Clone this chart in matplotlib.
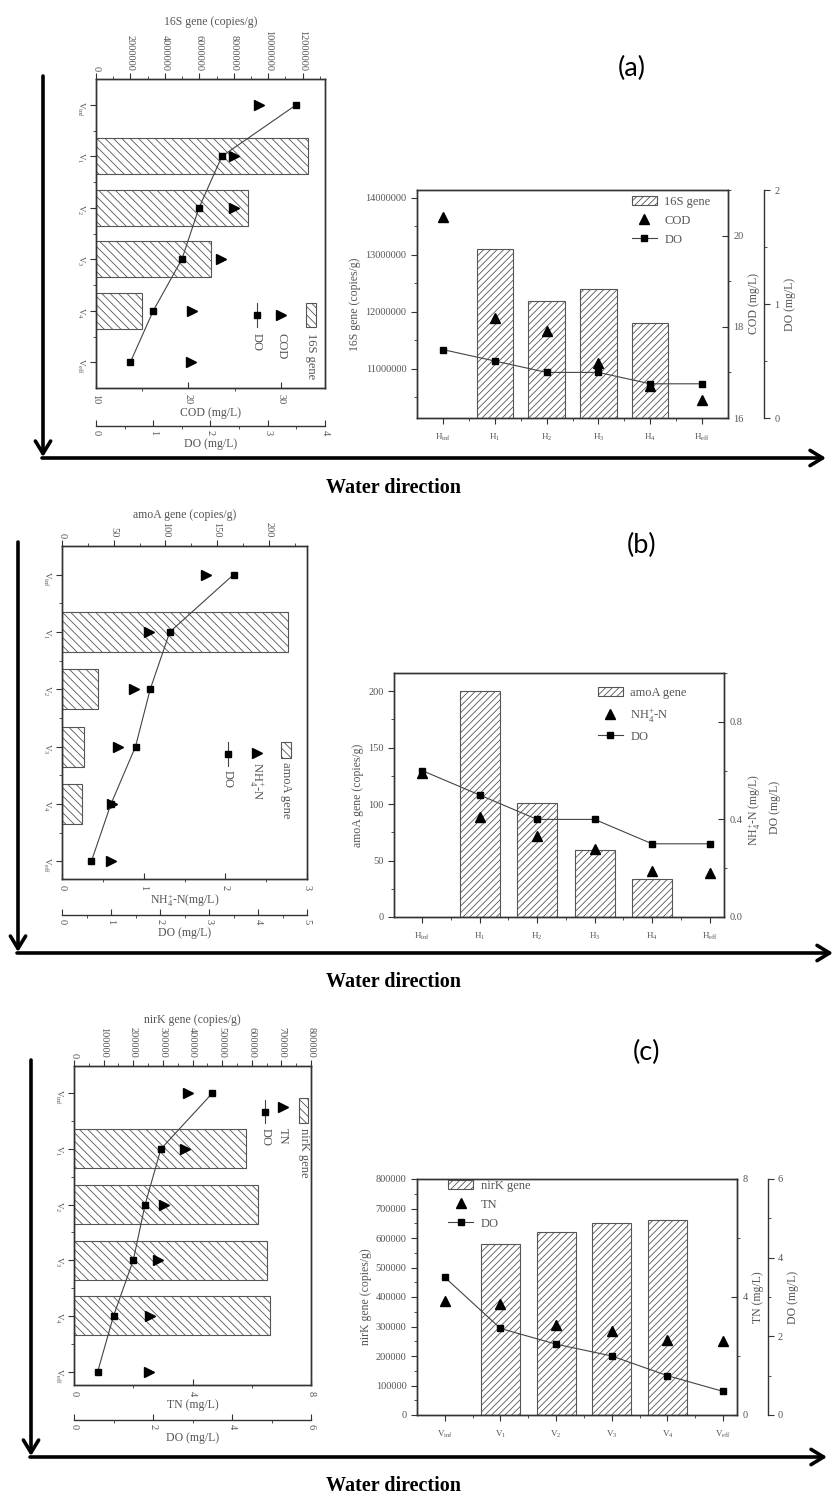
import numpy as np
import matplotlib
matplotlib.use('Agg')
import matplotlib.pyplot as plt
from matplotlib.patches import Patch, Rectangle
from matplotlib.lines import Line2D
from matplotlib.ticker import MultipleLocator, FixedLocator, FormatStrFormatter

W, H = 835, 1496

v_sites = [r'V$_\mathregular{inf}$', r'V$_\mathregular{1}$', r'V$_\mathregular{2}$',
           r'V$_\mathregular{3}$', r'V$_\mathregular{4}$', r'V$_\mathregular{eff}$']
h_sites = [r'H$_\mathregular{inf}$', r'H$_\mathregular{1}$', r'H$_\mathregular{2}$',
           r'H$_\mathregular{3}$', r'H$_\mathregular{4}$', r'H$_\mathregular{eff}$']

# (a) 16S gene / COD / DO
gene16s_v = [np.nan, 12300000, 8800000, 6700000, 2700000, np.nan]
cod_v = [27.7, 24.9, 24.9, 23.5, 20.4, 20.3]
do_v = [3.5, 2.2, 1.8, 1.5, 1.0, 0.6]
gene16s_h = [np.nan, 13100000, 12200000, 12400000, 11800000, np.nan]
cod_h = [20.4, 18.2, 17.9, 17.2, 16.7, 16.4]
do_h = [0.6, 0.5, 0.4, 0.4, 0.3, 0.3]

# (b) amoA gene / NH4+-N / DO
amoa_v = [np.nan, 219, 35, 21, 19, np.nan]
nh4_v = [1.76, 1.06, 0.88, 0.69, 0.61, 0.60]
amoa_h = [np.nan, 200, 101, 59, 34, np.nan]
nh4_h = [0.59, 0.41, 0.33, 0.28, 0.19, 0.18]

# (c) nirK gene / TN / DO
nirk_v = [np.nan, 580000, 620000, 650000, 660000, np.nan]
tn_v = [3.85, 3.75, 3.05, 2.85, 2.55, 2.52]

NH4 = r'NH$_\mathregular{4}^\mathregular{+}$-N'

DARK = '#333333'
GREY = '#555555'
EDGE = '#555555'
LINE = '#444444'

plt.rcParams['font.family'] = ['Liberation Serif', 'DejaVu Serif']
plt.rcParams['mathtext.fontset'] = 'stix'
plt.rcParams['hatch.linewidth'] = 0.6

fig = plt.figure(figsize=(W / 100, H / 100), dpi=100)


def add_box(l, t, r, b):
    return fig.add_axes([l / W, 1 - b / H, (r - l) / W, (b - t) / H])


def style(ax):
    for s in ax.spines.values():
        s.set_color(DARK)
        s.set_linewidth(1.0)
    ax.tick_params(which='both', colors=DARK, labelcolor=GREY, labelsize=7.5)
    ax.tick_params(which='major', length=4)
    ax.tick_params(which='minor', length=2.5)


def steps(axis, step):
    axis.set_major_locator(MultipleLocator(step))
    axis.set_minor_locator(MultipleLocator(step / 2))


def rotated_panel(box, gene, gene_lim, gene_step, gene_label,
                  mark, mark_lim, mark_step, mark_label,
                  do, do_lim, do_step, cat_lim, do_offset, legend):
    ax = add_box(*box)
    y = np.arange(len(v_sites))
    axm = ax.twiny()
    axd = ax.twiny()

    ax.barh(y, gene, height=0.7, color='white', edgecolor=EDGE, lw=0.8, hatch='\\\\\\\\')
    ax.set_ylim(*cat_lim)
    ax.set_xlim(*gene_lim)
    ax.set_yticks(y)
    ax.set_yticklabels(v_sites)
    ax.yaxis.set_minor_locator(FixedLocator(y[:-1] + 0.5))
    ax.xaxis.tick_top()
    ax.xaxis.set_label_position('top')
    steps(ax.xaxis, gene_step)
    ax.ticklabel_format(axis='x', style='plain', useOffset=False)
    ax.set_xlabel(gene_label, fontsize=8.5, color=GREY, labelpad=3)
    style(ax)
    ax.tick_params(axis='x', labelrotation=-90, pad=2)
    ax.tick_params(axis='y', labelrotation=-90, labelsize=6.5, pad=3)

    axm.plot(mark, y, ls='none', marker='>', color='black', ms=7)
    axm.set_xlim(*mark_lim)
    axm.xaxis.tick_bottom()
    axm.xaxis.set_label_position('bottom')
    steps(axm.xaxis, mark_step)
    axm.set_xlabel(mark_label, fontsize=8.5, color=GREY, labelpad=2)
    style(axm)
    axm.tick_params(axis='x', labelrotation=-90, direction='in', pad=4)

    axd.plot(do, y, color=LINE, lw=0.8, marker='s', mfc='black', mec='black', ms=4.5)
    axd.set_xlim(*do_lim)
    axd.xaxis.tick_bottom()
    axd.xaxis.set_label_position('bottom')
    steps(axd.xaxis, do_step)
    axd.spines['bottom'].set_position(('outward', do_offset))
    for s in ['top', 'left', 'right']:
        axd.spines[s].set_visible(False)
    axd.set_xlabel('DO (mg/L)', fontsize=8.5, color=GREY, labelpad=2)
    style(axd)
    axd.tick_params(axis='x', labelrotation=-90, direction='in', pad=3)

    # legend, turned like the rest of the chart
    tr = ax.transAxes
    for kind, x, y0, y1, ytext, label in legend:
        if kind == 'patch':
            ax.add_patch(Rectangle((x - 0.02, 1 - y1), 0.04, y1 - y0, transform=tr,
                                   facecolor='white', edgecolor=EDGE, lw=0.8,
                                   hatch='\\\\\\\\', clip_on=False))
        elif kind == 'tri':
            ax.plot([x], [1 - (y0 + y1) / 2], transform=tr, ls='none', marker='>',
                    color='black', ms=7, clip_on=False)
        else:
            ax.plot([x, x], [1 - y0, 1 - y1], transform=tr, color=LINE, lw=0.8,
                    clip_on=False)
            ax.plot([x], [1 - (y0 + y1) / 2], transform=tr, marker='s', color='black',
                    ms=4.5, clip_on=False)
        ax.text(x, 1 - ytext, label, transform=tr, rotation=-90, ha='center', va='top',
                fontsize=9, color=GREY)
    return ax


def upright_panel(box, sites, gene, gene_lim, gene_step, gene_label,
                  mark, mark_lim, mark_step, mark_label,
                  do, do_lim, do_step, cat_lim, do_offset, leg_anchor, leg_labels,
                  right_fmt=None):
    ax = add_box(*box)
    x = np.arange(len(sites))
    axm = ax.twinx()

    ax.bar(x, gene, width=0.7, color='white', edgecolor=EDGE, lw=0.8, hatch='/////')
    ax.set_xlim(*cat_lim)
    ax.set_xticks(x)
    ax.set_xticklabels(sites)
    ax.xaxis.set_minor_locator(FixedLocator(x[:-1] + 0.5))
    ax.set_ylim(*gene_lim)
    steps(ax.yaxis, gene_step)
    ax.ticklabel_format(axis='y', style='plain', useOffset=False)
    ax.set_ylabel(gene_label, fontsize=8.5, color=GREY, labelpad=3)
    style(ax)
    ax.tick_params(axis='x', labelsize=6.5, pad=6)

    axm.plot(x, mark, ls='none', marker='^', color='black', ms=7)
    axm.set_ylim(*mark_lim)
    steps(axm.yaxis, mark_step)
    if right_fmt:
        axm.yaxis.set_major_formatter(FormatStrFormatter(right_fmt))
    style(axm)
    axm.tick_params(axis='y', direction='in', pad=4)

    if do_offset is None:
        axm.plot(x, do, color=LINE, lw=0.8, marker='s', mfc='black', mec='black', ms=4)
        axm.text(1.094, 0.44, mark_label, transform=axm.transAxes, rotation=90,
                 ha='center', va='center', fontsize=8.5, color=GREY)
        axm.text(1.155, 0.45, 'DO (mg/L)', transform=axm.transAxes, rotation=90,
                 ha='center', va='center', fontsize=8.5, color=GREY)
    else:
        axm.set_ylabel(mark_label, fontsize=8.5, color=GREY, labelpad=3)
        axd = ax.twinx()
        axd.plot(x, do, color=LINE, lw=0.8, marker='s', mfc='black', mec='black', ms=4)
        axd.set_ylim(*do_lim)
        steps(axd.yaxis, do_step)
        axd.spines['right'].set_position(('outward', do_offset))
        for s in ['top', 'left', 'bottom']:
            axd.spines[s].set_visible(False)
        axd.set_ylabel('DO (mg/L)', fontsize=8.5, color=GREY, labelpad=3)
        style(axd)

    handles = [Patch(facecolor='white', edgecolor=EDGE, lw=0.8, hatch='/////'),
               Line2D([], [], ls='none', marker='^', color='black', ms=7),
               Line2D([], [], color=LINE, lw=0.8, marker='s', mfc='black', mec='black', ms=4)]
    ax.legend(handles, leg_labels, loc='upper left', bbox_to_anchor=leg_anchor,
              frameon=False, fontsize=9, labelcolor=GREY, borderpad=0, borderaxespad=0,
              handlelength=2.0, handletextpad=0.6, labelspacing=0.55)
    return ax


# ---------- (a) ----------
rotated_panel((96, 79, 325, 388), gene16s_v, (0, 13300000), 2000000, '16S gene (copies/g)',
              cod_v, (10, 34.8), 10, 'COD (mg/L)',
              do_v, (0, 4), 1, (5.5, -0.5), 27,
              [('patch', 0.939, 0.725, 0.803, 0.822, '16S gene'),
               ('tri', 0.808, 0.725, 0.803, 0.822, 'COD'),
               ('line', 0.703, 0.725, 0.803, 0.822, 'DO')])
upright_panel((417, 190, 728, 418), h_sites, gene16s_h, (10140000, 14140000), 1000000,
              '16S gene (copies/g)', cod_h, (16, 21), 2, 'COD (mg/L)',
              do_h, (0, 2), 1, (-0.5, 5.5), 26, (0.691, 0.974),
              ['16S gene', 'COD', 'DO'])

# ---------- (b) ----------
rotated_panel((62, 546, 307, 879), amoa_v, (0, 237), 50, 'amoA gene (copies/g)',
              nh4_v, (0, 3), 1, NH4 + '(mg/L)',
              do_v, (0, 5), 1, (5.31, -0.5), 26,
              [('patch', 0.914, 0.589, 0.637, 0.649, 'amoA gene'),
               ('tri', 0.796, 0.589, 0.655, 0.649, NH4),
               ('line', 0.677, 0.589, 0.661, 0.672, 'DO')])
upright_panel((394, 673, 724, 917), h_sites, amoa_h, (0, 216), 50, 'amoA gene (copies/g)',
              nh4_h, (0, 1.0), 0.4, NH4 + ' (mg/L)',
              do_h, None, None, (-0.49, 5.25), None, (0.618, 0.943),
              ['amoA gene', NH4, 'DO'], right_fmt='%.1f')

# ---------- (c) ----------
rotated_panel((74, 1066, 311, 1385), nirk_v, (0, 800000), 100000, 'nirK gene (copies/g)',
              tn_v, (0, 8), 4, 'TN (mg/L)',
              do_v, (0, 6), 2, (5.24, -0.49), 25,
              [('patch', 0.969, 0.100, 0.179, 0.194, 'nirK gene'),
               ('tri', 0.880, 0.100, 0.156, 0.194, 'TN'),
               ('line', 0.807, 0.107, 0.179, 0.194, 'DO')])
upright_panel((417, 1179, 737, 1415), v_sites, nirk_v, (0, 800000), 100000,
              'nirK gene (copies/g)', tn_v, (0, 8), 4, 'TN (mg/L)',
              do_v, (0, 6), 2, (-0.5, 5.25), 22, (0.098, 0.996),
              ['nirK gene', 'TN', 'DO'])

# ---------- arrows and labels, in pixel space ----------
bg = fig.add_axes([0, 0, 1, 1], zorder=-1)
bg.set_xlim(0, W)
bg.set_ylim(H, 0)
bg.axis('off')

arrow = dict(arrowstyle='->,head_length=0.9,head_width=0.55', lw=2.6, color='black',
             shrinkA=0, shrinkB=0, mutation_scale=10)
for x0, y0, y1, x1 in [(43, 76, 458, 826), (18, 542, 953, 833), (31, 1060, 1457, 827)]:
    bg.annotate('', xy=(x0, y1 - 1), xytext=(x0, y0), arrowprops=arrow)
    bg.annotate('', xy=(x1, y1), xytext=(x0 - 1, y1), arrowprops=arrow)

for y in [488, 982, 1486]:
    bg.text(393, y, 'Water direction', ha='center', va='center', fontsize=14.5,
            fontweight='bold', family='Liberation Serif')

for x, y, t in [(632, 68, '(a)'), (642, 545, '(b)'), (647, 1052, '(c)')]:
    bg.text(x, y, t, ha='center', va='center', fontsize=19.5, family='Lato')

fig.savefig('out.png', dpi=100)
